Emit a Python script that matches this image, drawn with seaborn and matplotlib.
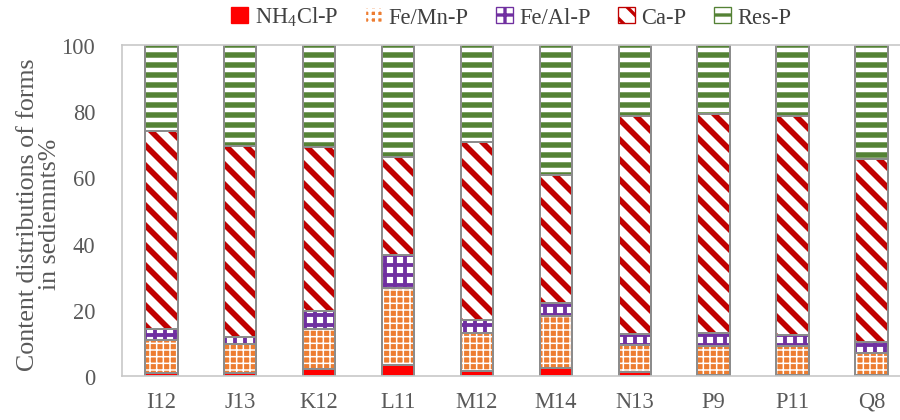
import matplotlib
matplotlib.use('Agg')
import matplotlib.pyplot as plt
from matplotlib.patches import Patch
import seaborn as sns
import numpy as np

sites = ['I12', 'J13', 'K12', 'L11', 'M12', 'M14', 'N13', 'P9', 'P11', 'Q8']
nh4cl = [1.0, 1.0, 2.0, 3.3, 1.5, 2.3, 1.2, 0.2, 0.2, 0.2]
femn = [9.9, 8.7, 12.2, 23.3, 11.5, 15.7, 8.2, 9.0, 9.0, 6.8]
feal = [3.3, 2.1, 5.4, 9.9, 4.0, 4.0, 3.3, 3.8, 3.3, 3.2]
cap = [59.9, 57.6, 49.6, 29.6, 53.6, 38.7, 65.9, 66.2, 66.1, 55.4]
resp = [25.9, 30.6, 30.8, 33.9, 29.4, 39.3, 21.4, 20.8, 21.4, 34.4]

names = ['NH$_4$Cl-P', 'Fe/Mn-P', 'Fe/Al-P', 'Ca-P', 'Res-P']
# face colour, hatch colour, hatch, hatch linewidth
styles = [('#FF0000', '#FF0000', None, 1.0),
          ('#ED7D31', 'white', '+++', 0.9),
          ('white', '#7030A0', '++', 2.3),
          ('white', '#C00000', '\\\\', 3.4),
          ('white', '#548235', '--', 3.3)]

sns.set_style('white')
plt.rcParams['font.family'] = ['Liberation Serif', 'DejaVu Serif']
plt.rcParams['mathtext.fontset'] = 'custom'
plt.rcParams['mathtext.rm'] = 'Liberation Serif'
plt.rcParams['mathtext.it'] = 'Liberation Serif:italic'

layers = np.array([nh4cl, femn, feal, cap, resp])
tops = np.cumsum(layers, axis=0)

fig = plt.figure(figsize=(7.5, 3.5083), dpi=120)
ax = fig.add_axes([121.9 / 900, 44 / 421, 789 / 900, 331 / 421])

w = 0.41
# draw from the top layer down so each lower one covers the part below it
for i in range(4, -1, -1):
    face, hc, hatch, hlw = styles[i]
    before = len(ax.patches)
    plt.rcParams['hatch.linewidth'] = hlw
    sns.barplot(x=sites, y=tops[i], color=face, saturation=1, width=w,
                hatch=hatch, edgecolor=hc, linewidth=0, ax=ax, errorbar=None)
    for p in ax.patches[before:]:
        if hasattr(p, 'set_hatch_linewidth'):
            p.set_hatch_linewidth(hlw)
    sns.barplot(x=sites, y=tops[i], fill=False, width=w, edgecolor='#8C8C8C',
                linewidth=1.2, ax=ax, errorbar=None)

ax.set_xlim(-0.5, 9.5)
ax.set_ylim(0, 100)
ax.set_yticks(range(0, 101, 20))
ax.tick_params(axis='y', length=0, pad=16, labelsize=13.5, labelcolor='#595959')
ax.tick_params(axis='x', length=0, pad=9, labelsize=13.5, labelcolor='#595959')
for s in ax.spines.values():
    s.set_color('#C8C8C8')
    s.set_linewidth(1)
ax.set_xlabel('')
ax.set_ylabel('')

fig.text(39 / 900, 0.49, 'Content distributions of forms\nin sediemnts%',
         rotation=90, ha='center', va='center', multialignment='center',
         fontsize=15.5, color='#595959', linespacing=1.05)

handles = []
for face, hc, hatch, hlw in styles:
    plt.rcParams['hatch.linewidth'] = min(hlw, 2.0)
    handles.append(Patch(facecolor=face, edgecolor=hc, hatch=hatch, linewidth=0.8))
leg = fig.legend(handles, names, loc='center', bbox_to_anchor=(0.568, 0.958),
                 ncol=5, frameon=False, fontsize=13.5, handlelength=0.75,
                 handleheight=0.75, handletextpad=0.3, columnspacing=1.2)
for t in leg.get_texts():
    t.set_color('#404040')

fig.savefig('out.png', dpi=120)
